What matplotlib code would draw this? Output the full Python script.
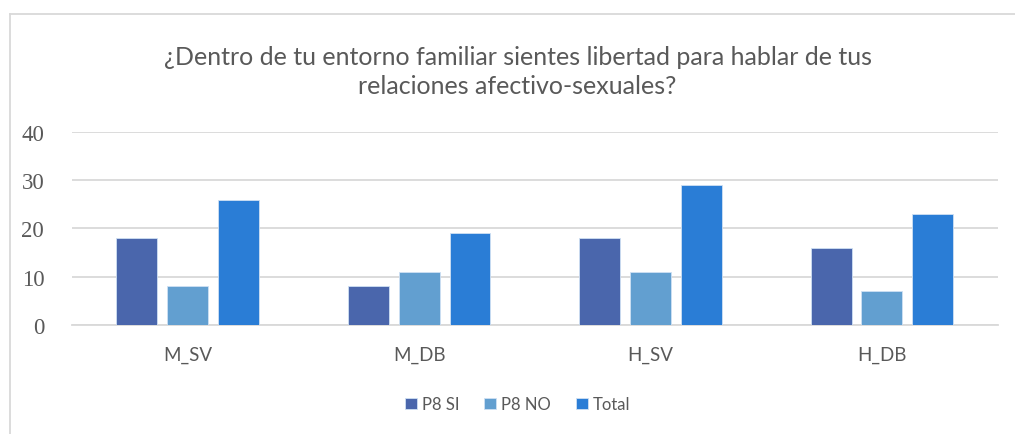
import numpy as np
import matplotlib
matplotlib.use('Agg')
import matplotlib.pyplot as plt
from matplotlib.lines import Line2D

categorias = ['M_SV', 'M_DB', 'H_SV', 'H_DB']
p8_si = [18, 8, 18, 16]
p8_no = [8, 11, 11, 7]
total = [26, 19, 29, 23]
series = ['P8 SI', 'P8 NO', 'Total']
colores = ['#4a66ac', '#629fd0', '#2a7dd6']

fig = plt.figure(figsize=(10.15, 4.35), dpi=100)
ax = fig.add_axes([0.0709, 0.2506, 0.912, 0.4437])

x = np.arange(len(categorias))
paso = 0.22
ancho = 0.177
for i, (vals, nombre, c) in enumerate(zip([p8_si, p8_no, total], series, colores)):
	ax.bar(x + (i - 1) * paso, vals, ancho, color=c, label=nombre,
		edgecolor='#cfe0f3', linewidth=0.6, zorder=3)

ax.set_xlim(-0.5, len(categorias) - 0.5)
ax.set_ylim(0, 40)
ax.set_yticks([0, 10, 20, 30, 40])
ax.yaxis.grid(True, color='#d9d9d9', linewidth=1.3, zorder=0)
for s in ['top', 'right', 'left']:
	ax.spines[s].set_visible(False)
ax.spines['bottom'].set_color('#d9d9d9')
ax.spines['bottom'].set_linewidth(1.3)
ax.tick_params(axis='both', length=0)
ax.set_xticks(x)
ax.set_xticklabels(categorias, fontfamily='Lato', fontsize=13.5, color='#595959')
ax.tick_params(axis='x', pad=15)
for t in ax.get_yticklabels():
	t.set_fontfamily('Liberation Serif')
	t.set_fontsize(16.5)
	t.set_color('#595959')
ax.tick_params(axis='y', pad=20)

fig.text(0.51, 0.835, '¿Dentro de tu entorno familiar sientes libertad para hablar de tus\nrelaciones afectivo-sexuales?',
	ha='center', va='center', fontfamily='Lato', fontsize=18, color='#595959', linespacing=1.32)

leg = ax.legend(loc='center', bbox_to_anchor=(0.51, 0.068), bbox_transform=fig.transFigure,
	ncol=3, frameon=False, prop={'family': 'Lato', 'size': 12},
	handlelength=0.7, handleheight=0.7, handletextpad=0.3, columnspacing=1.5)
for t in leg.get_texts():
	t.set_color('#595959')

# marco
fig.add_artist(Line2D([10 / 1015, 1], [1 - 15 / 435, 1 - 15 / 435], transform=fig.transFigure, color='#d9d9d9', linewidth=1.3))
fig.add_artist(Line2D([10 / 1015, 10 / 1015], [0, 1 - 15 / 435], transform=fig.transFigure, color='#d9d9d9', linewidth=1.3))

fig.savefig('out.png', dpi=100)
